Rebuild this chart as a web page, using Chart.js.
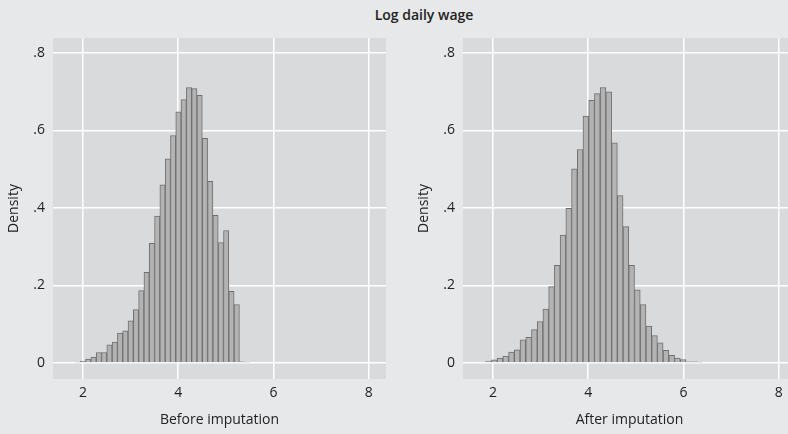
<!DOCTYPE html>
<html>
<head>
<meta charset="utf-8">
<script src="https://cdn.jsdelivr.net/npm/chart.js@4.4.0/dist/chart.umd.min.js"></script>
<style>
  body { margin: 0; background: #e7e8e9; width: 788px; height: 434px; overflow: hidden; position: relative; font-family: "Open Sans", sans-serif; }
  #title { position: absolute; left: 0; width: 848px; top: 5px; text-align: center; font-weight: 600; font-size: 14px; color: #222; }
  .box { position: absolute; top: 0; width: 400px; height: 434px; }
</style>
</head>
<body>
<div id="title">Log daily wage</div>
<div class="box" style="left:0px"><canvas id="before" width="400" height="434"></canvas></div>
<div class="box" style="left:410px"><canvas id="after" width="400" height="434"></canvas></div>
<script>
// histogram densities, read bin by bin
var beforeStart = 1.832;
var beforeWidth = 0.1114;
var beforeDensity = [0.002, 0.005, 0.010, 0.015, 0.027, 0.027, 0.047, 0.054, 0.077, 0.083,
  0.109, 0.138, 0.187, 0.234, 0.309, 0.379, 0.460, 0.527, 0.587, 0.648,
  0.680, 0.711, 0.708, 0.691, 0.580, 0.469, 0.381, 0.311, 0.342, 0.185,
  0.151, 0.003, 0.002];

var afterStart = 1.847;
var afterWidth = 0.1202;
var afterDensity = [0.005, 0.008, 0.013, 0.018, 0.028, 0.034, 0.060, 0.066, 0.086, 0.107,
  0.139, 0.197, 0.252, 0.330, 0.399, 0.501, 0.551, 0.637, 0.678, 0.695,
  0.711, 0.700, 0.568, 0.432, 0.352, 0.252, 0.189, 0.151, 0.095, 0.071,
  0.052, 0.033, 0.020, 0.013, 0.009, 0.003, 0.003, 0.002];

var xTicks = [2, 4, 6, 8];
var yTicks = [0, 0.2, 0.4, 0.6, 0.8];

Chart.defaults.font.family = "'Open Sans', sans-serif";
Chart.defaults.color = '#222';

// grey plot region behind the bars
const plotBg = {
  id: 'plotBg',
  beforeDraw(chart) {
    const a = chart.chartArea;
    const c = chart.ctx;
    c.save();
    c.fillStyle = '#d9dadc';
    c.fillRect(a.left, a.top, a.right - a.left, a.bottom - a.top);
    c.restore();
  }
};

function binPoints(start, width, values) {
  return values.map(function (v, i) {
    return { x: start + width * (i + 0.5), y: v };
  });
}

function makeHist(id, start, width, values, label) {
  return new Chart(document.getElementById(id), {
    type: 'bar',
    data: {
      datasets: [{
        data: binPoints(start, width, values),
        backgroundColor: '#b3b3b3',
        borderColor: '#6f6f6f',
        borderWidth: 1,
        barPercentage: 1,
        categoryPercentage: 1
      }]
    },
    options: {
      responsive: false,
      animation: false,
      layout: { padding: { left: 6, right: 14, top: 38, bottom: 6 } },
      plugins: {
        legend: { display: false },
        tooltip: { enabled: false }
      },
      scales: {
        x: {
          type: 'linear',
          offset: false,
          min: 1.37,
          max: 8.364,
          afterBuildTicks: function (s) { s.ticks = xTicks.map(function (v) { return { value: v }; }); },
          afterFit: function (s) { s.height = 49; },
          ticks: { font: { size: 14 }, padding: 6, maxRotation: 0 },
          grid: { color: '#ffffff', lineWidth: 1.5, drawTicks: false, offset: false },
          border: { display: false },
          title: { display: true, text: label, font: { size: 14 }, padding: 0 }
        },
        y: {
          min: -0.0413,
          max: 0.8387,
          afterBuildTicks: function (s) { s.ticks = yTicks.map(function (v) { return { value: v }; }); },
          afterFit: function (s) { s.width = 47; },
          ticks: {
            font: { size: 14 },
            padding: 8,
            callback: function (v) { return v === 0 ? '0' : String(v.toFixed(1)).replace(/^0/, ''); }
          },
          grid: { color: '#ffffff', lineWidth: 1.5, drawTicks: false },
          border: { display: false },
          title: { display: true, text: 'Density', font: { size: 14 }, padding: 0 }
        }
      }
    },
    plugins: [plotBg]
  });
}

makeHist('before', beforeStart, beforeWidth, beforeDensity, 'Before imputation');
makeHist('after', afterStart, afterWidth, afterDensity, 'After imputation');
</script>
</body>
</html>
